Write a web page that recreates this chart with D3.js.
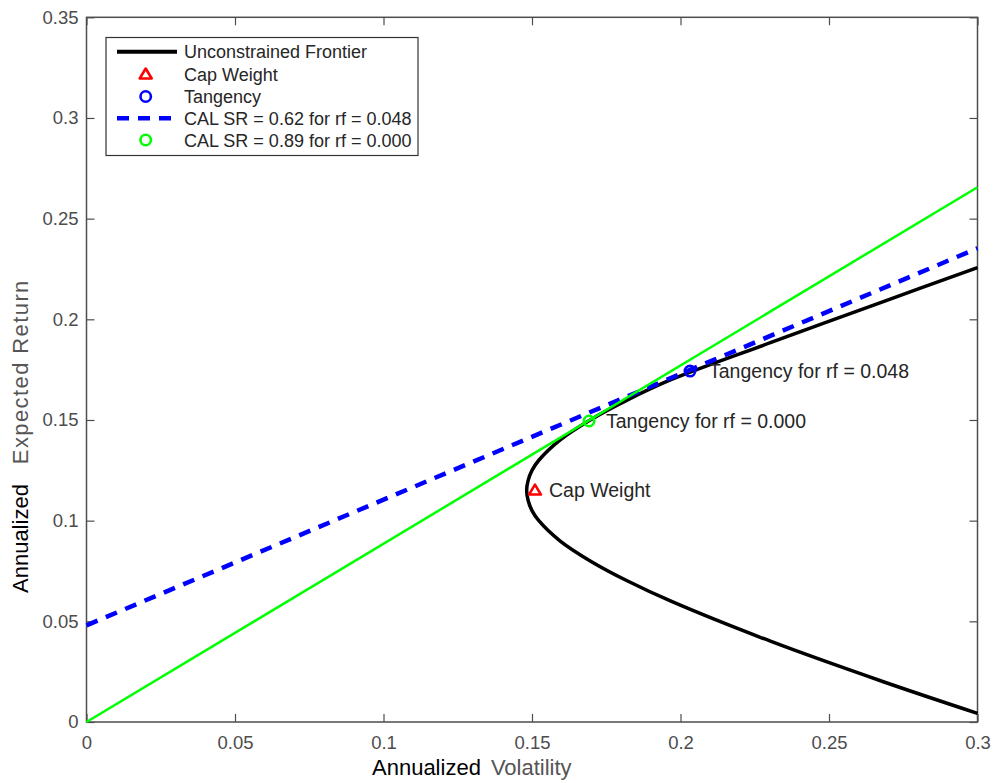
<!DOCTYPE html>
<html>
<head>
<meta charset="utf-8">
<script src="https://cdn.jsdelivr.net/npm/d3@7"></script>
<style>
  body { margin: 0; background: #fff; }
  text { font-family: "Liberation Sans", Arial, Helvetica, sans-serif; }
</style>
</head>
<body>
<svg id="root"></svg>
<script>
// data
var xTicks = [0, 0.05, 0.1, 0.15, 0.2, 0.25, 0.3],
    xTickLabels = ['0', '0.05', '0.1', '0.15', '0.2', '0.25', '0.3'],
    yTicks = [0, 0.05, 0.1, 0.15, 0.2, 0.25, 0.3, 0.35],
    yTickLabels = ['0', '0.05', '0.1', '0.15', '0.2', '0.25', '0.3', '0.35'];

// unconstrained frontier, (volatility, return), bottom branch to top branch
var frontierVol = [0.300, 0.2683, 0.2305, 0.1968, 0.1822, 0.1696, 0.1594, 0.1523, 0.1500, 0.1487, 0.1482,
                   0.1487, 0.1500, 0.1523, 0.1594, 0.1696, 0.1822, 0.1968, 0.2305, 0.2683, 0.300],
    frontierRet = [0.0043, 0.020, 0.040, 0.060, 0.070, 0.080, 0.090, 0.100, 0.105, 0.110, 0.115,
                   0.120, 0.125, 0.130, 0.140, 0.150, 0.160, 0.1700, 0.1885, 0.2088, 0.2257];

var capWeight = [0.151, 0.1152],
    tangency048 = [0.2032, 0.1743],
    tangency000 = [0.1692, 0.1495];

// capital allocation lines, endpoints
var cal048 = [[0, 0.048], [0.3, 0.2353]],
    cal000 = [[0, 0], [0.3, 0.2656]];

var legendLabels = ['Unconstrained Frontier', 'Cap Weight', 'Tangency',
                    'CAL SR = 0.62 for rf = 0.048', 'CAL SR = 0.89 for rf = 0.000'];

var width = 997,
    height = 783,
    mLeft = 86.5, mRight = 977.5, mTop = 17.3, mBottom = 722,
    root = d3.select('#root')
        .attr('width', width)
        .attr('height', height);

root.append('rect')
    .attr('width', width)
    .attr('height', height)
    .attr('fill', '#fff');

var x = d3.scaleLinear().domain([0, 0.3]).range([mLeft, mRight]),
    y = d3.scaleLinear().domain([0, 0.35]).range([mBottom, mTop]);

var axisColor = '#4d4d4d';

function styleAxis(g) {
    g.select('.domain').remove();
    g.selectAll('.tick line').attr('stroke', axisColor).attr('stroke-width', 1.2);
    g.selectAll('.tick text').attr('fill', axisColor).style('font-size', '18.5px');
}

root.append('g')
    .attr('transform', 'translate(0,' + mBottom + ')')
    .call(d3.axisBottom(x).tickValues(xTicks)
        .tickFormat(function(d, i) { return xTickLabels[i]; })
        .tickSizeInner(-8).tickSizeOuter(0).tickPadding(14))
    .call(styleAxis);
root.append('g')
    .attr('transform', 'translate(0,' + mTop + ')')
    .call(d3.axisTop(x).tickValues(xTicks).tickFormat('')
        .tickSizeInner(-8).tickSizeOuter(0))
    .call(styleAxis);
root.append('g')
    .attr('transform', 'translate(' + mLeft + ',0)')
    .call(d3.axisLeft(y).tickValues(yTicks)
        .tickFormat(function(d, i) { return yTickLabels[i]; })
        .tickSizeInner(-8).tickSizeOuter(0).tickPadding(8))
    .call(styleAxis);
root.append('g')
    .attr('transform', 'translate(' + mRight + ',0)')
    .call(d3.axisRight(y).tickValues(yTicks).tickFormat('')
        .tickSizeInner(-8).tickSizeOuter(0))
    .call(styleAxis);

root.append('rect')
    .attr('x', mLeft).attr('y', mTop)
    .attr('width', mRight - mLeft).attr('height', mBottom - mTop)
    .attr('fill', 'none')
    .attr('stroke', axisColor)
    .attr('stroke-width', 1.5);

// plot area
var plot = root.append('g');

var frontier = frontierVol.map(function(v, i) { return [v, frontierRet[i]]; });
var line = d3.line()
    .x(function(d) { return x(d[0]); })
    .y(function(d) { return y(d[1]); });

plot.append('path')
    .datum(frontier)
    .attr('d', line.curve(d3.curveCatmullRom))
    .attr('fill', 'none')
    .attr('stroke', '#000')
    .attr('stroke-width', 3.5);

line.curve(d3.curveLinear);

plot.append('path')
    .datum(cal048)
    .attr('d', line)
    .attr('fill', 'none')
    .attr('stroke', '#0000ff')
    .attr('stroke-width', 4.5)
    .attr('stroke-dasharray', '12,9');

plot.append('path')
    .datum(cal000)
    .attr('d', line)
    .attr('fill', 'none')
    .attr('stroke', '#00ff00')
    .attr('stroke-width', 2.5);

function triangle(g, cx, cy) {
    g.append('path')
        .attr('d', 'M' + cx + ',' + (cy - 5.5) + 'L' + (cx + 6) + ',' + (cy + 4.5) + 'L' + (cx - 6) + ',' + (cy + 4.5) + 'Z')
        .attr('fill', 'none')
        .attr('stroke', '#ff0000')
        .attr('stroke-width', 2.6)
        .attr('stroke-linejoin', 'round');
}

function circle(g, cx, cy, color) {
    g.append('circle')
        .attr('cx', cx).attr('cy', cy).attr('r', 5.2)
        .attr('fill', 'none')
        .attr('stroke', color)
        .attr('stroke-width', 2.6);
}

triangle(plot, x(capWeight[0]), y(capWeight[1]));
circle(plot, x(tangency048[0]), y(tangency048[1]), '#0000ff');
circle(plot, x(tangency000[0]), y(tangency000[1]), '#00ff00');

function label(px, py, txt) {
    plot.append('text')
        .attr('x', px).attr('y', py)
        .attr('fill', '#262626')
        .style('font-size', '19.5px')
        .text(txt);
}
label(x(capWeight[0]) + 14, y(capWeight[1]) + 7, 'Cap Weight');
label(x(tangency000[0]) + 17, y(tangency000[1]) + 7, 'Tangency for rf = 0.000');
label(x(tangency048[0]) + 19, y(tangency048[1]) + 7, 'Tangency for rf = 0.048');

// legend
var lg = root.append('g');
lg.append('rect')
    .attr('x', 106).attr('y', 37.5)
    .attr('width', 312).attr('height', 118)
    .attr('fill', '#fff')
    .attr('stroke', '#333')
    .attr('stroke-width', 1.2);

var rowY = [51.7, 74, 96.5, 118.3, 140];
legendLabels.forEach(function(t, i) {
    lg.append('text')
        .attr('x', 184).attr('y', rowY[i] + 6.5)
        .attr('fill', '#262626')
        .style('font-size', '18px')
        .text(t);
});
lg.append('line')
    .attr('x1', 117).attr('x2', 177).attr('y1', rowY[0]).attr('y2', rowY[0])
    .attr('stroke', '#000').attr('stroke-width', 4);
triangle(lg, 145.7, rowY[1]);
circle(lg, 145.7, rowY[2], '#0000ff');
lg.append('line')
    .attr('x1', 117).attr('x2', 177).attr('y1', rowY[3]).attr('y2', rowY[3])
    .attr('stroke', '#0000ff').attr('stroke-width', 4.5)
    .attr('stroke-dasharray', '12,9');
circle(lg, 145.7, rowY[4], '#00ff00');

// axis labels
root.append('text')
    .attr('x', 372).attr('y', 775)
    .style('font-size', '22px')
    .call(function(t) {
        t.append('tspan').attr('fill', '#000').text('Annualized');
        t.append('tspan').attr('fill', '#555').attr('dx', 10).text('Volatility');
    });

root.append('text')
    .attr('transform', 'translate(28,593) rotate(-90)')
    .style('font-size', '22px')
    .call(function(t) {
        t.append('tspan').attr('fill', '#000').text('Annualized');
        t.append('tspan').attr('fill', '#555').attr('dx', 20)
            .style('letter-spacing', '1.4px').text('Expected Return');
    });
</script>
</body>
</html>
